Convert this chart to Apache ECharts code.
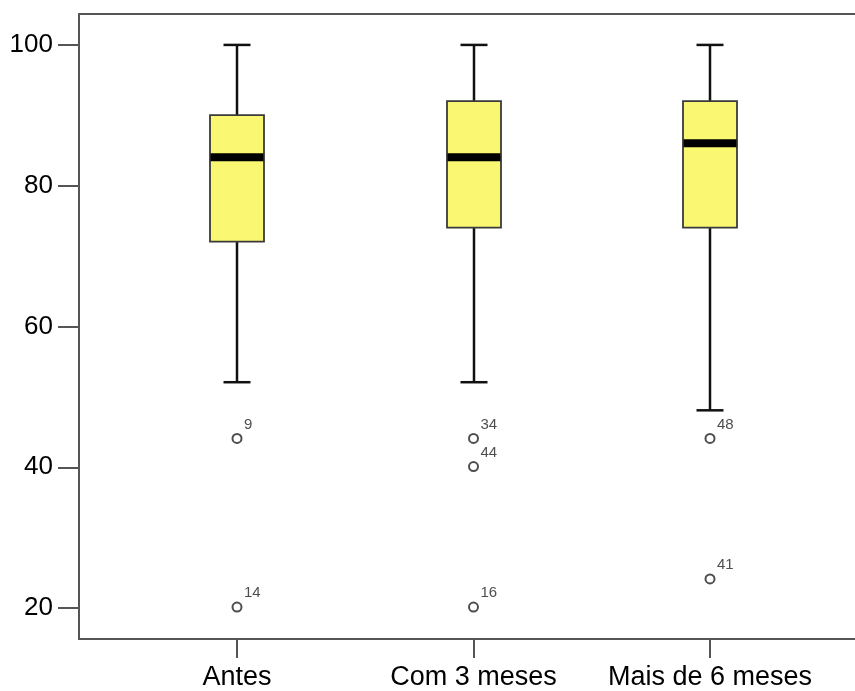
<!DOCTYPE html>
<html>
<head>
<meta charset="utf-8">
<script src="https://cdn.jsdelivr.net/npm/echarts@6/dist/echarts.min.js"></script>
<style>
  html, body { margin: 0; padding: 0; background: #fff; }
  #chart { width: 855px; height: 691px; }
</style>
</head>
<body>
<div id="chart"></div>
<script>
// Groups on the horizontal axis
const categories = ['Antes', 'Com 3 meses', 'Mais de 6 meses'];

// Five-number summaries per group
const whiskerLow = [52, 52, 48];
const q1 = [72, 74, 74];
const median = [84, 84, 86];
const q3 = [90, 92, 92];
const whiskerHigh = [100, 100, 100];

// Outlying cases: group index, value and case number
const outlierGroup = [0, 0, 1, 1, 1, 2, 2];
const outlierValue = [44, 20, 44, 40, 20, 44, 24];
const outlierCase = ['9', '14', '34', '44', '16', '48', '41'];

// Value-axis ticks
const yTicks = [20, 40, 60, 80, 100];
const yMin = 15.6;
const yMax = 104.4;

const FONT = 'Liberation Sans, Arial, sans-serif';
const AXIS_COLOR = '#555';

const boxData = categories.map((c, i) => [i, whiskerLow[i], q1[i], median[i], q3[i], whiskerHigh[i]]);
const outlierData = outlierValue.map((v, k) => ({ value: [outlierGroup[k], v], caseId: outlierCase[k] }));

const BOX_W = 54;
const CAP_W = 27;

function renderBox(params, api) {
  const i = api.value(0);
  const lo = api.coord([i, api.value(1)]);
  const b1 = api.coord([i, api.value(2)]);
  const md = api.coord([i, api.value(3)]);
  const b3 = api.coord([i, api.value(4)]);
  const hi = api.coord([i, api.value(5)]);
  const cx = Math.round(lo[0]);
  const whisk = { stroke: '#111', lineWidth: 2.5 };
  return {
    type: 'group',
    children: [
      { type: 'line', shape: { x1: cx, y1: hi[1], x2: cx, y2: b3[1] }, style: whisk },
      { type: 'line', shape: { x1: cx, y1: b1[1], x2: cx, y2: lo[1] }, style: whisk },
      { type: 'line', shape: { x1: cx - CAP_W / 2, y1: hi[1], x2: cx + CAP_W / 2, y2: hi[1] }, style: whisk },
      { type: 'line', shape: { x1: cx - CAP_W / 2, y1: lo[1], x2: cx + CAP_W / 2, y2: lo[1] }, style: whisk },
      {
        type: 'rect',
        shape: { x: cx - BOX_W / 2, y: b3[1], width: BOX_W, height: b1[1] - b3[1] },
        style: { fill: 'rgb(250,247,115)', stroke: '#3a3a3a', lineWidth: 1.8 }
      },
      {
        type: 'line',
        shape: { x1: cx - BOX_W / 2 + 0.5, y1: md[1], x2: cx + BOX_W / 2 - 0.5, y2: md[1] },
        style: { stroke: '#000', lineWidth: 8 }
      }
    ]
  };
}

const chart = echarts.init(document.getElementById('chart'), null, { renderer: 'canvas' });

chart.setOption({
  animation: false,
  backgroundColor: '#fff',
  grid: [
    { left: 79, right: 0, top: 14, bottom: 52 },
    { left: 118.75, right: 26.75, top: 14, bottom: 52 }
  ],
  xAxis: [
    {
      gridIndex: 0, type: 'value', min: 0, max: 1, position: 'bottom',
      axisLine: { show: true, onZero: false, lineStyle: { color: AXIS_COLOR, width: 2 } },
      axisTick: { show: false }, axisLabel: { show: false }, splitLine: { show: false }
    },
    {
      gridIndex: 0, type: 'value', min: 0, max: 1, position: 'top',
      axisLine: { show: true, onZero: false, lineStyle: { color: AXIS_COLOR, width: 2 } },
      axisTick: { show: false }, axisLabel: { show: false }, splitLine: { show: false }
    },
    {
      gridIndex: 1, type: 'category', data: categories, boundaryGap: true,
      axisLine: { show: false },
      axisTick: { show: true, interval: 0, alignWithLabel: true, length: 20, lineStyle: { color: AXIS_COLOR, width: 2 } },
      axisLabel: { interval: 0, hideOverlap: false, color: '#000', fontSize: 27, fontFamily: FONT, margin: 26 },
      splitLine: { show: false }
    }
  ],
  yAxis: [
    {
      gridIndex: 0, type: 'value', min: yMin, max: yMax,
      axisLine: { show: true, lineStyle: { color: AXIS_COLOR, width: 2 } },
      axisTick: { show: true, length: 21, customValues: yTicks, lineStyle: { color: AXIS_COLOR, width: 2 } },
      axisLabel: { color: '#000', fontSize: 26, fontFamily: FONT, margin: 26, customValues: yTicks },
      splitLine: { show: false }
    },
    {
      gridIndex: 1, type: 'value', min: yMin, max: yMax, show: false
    }
  ],
  series: [
    {
      type: 'custom',
      xAxisIndex: 2, yAxisIndex: 1,
      data: boxData,
      encode: { x: 0, y: [1, 2, 3, 4, 5] },
      renderItem: renderBox,
      silent: true
    },
    {
      type: 'scatter',
      xAxisIndex: 2, yAxisIndex: 1,
      data: outlierData,
      symbol: 'circle',
      symbolSize: 9,
      itemStyle: { color: '#fff', borderColor: '#222', borderWidth: 2 },
      label: {
        show: true,
        position: 'right',
        distance: 1.5,
        offset: [0, -14],
        color: '#222',
        fontSize: 15,
        fontFamily: FONT,
        formatter: (p) => p.data.caseId
      },
      silent: true
    }
  ]
});
</script>
</body>
</html>
